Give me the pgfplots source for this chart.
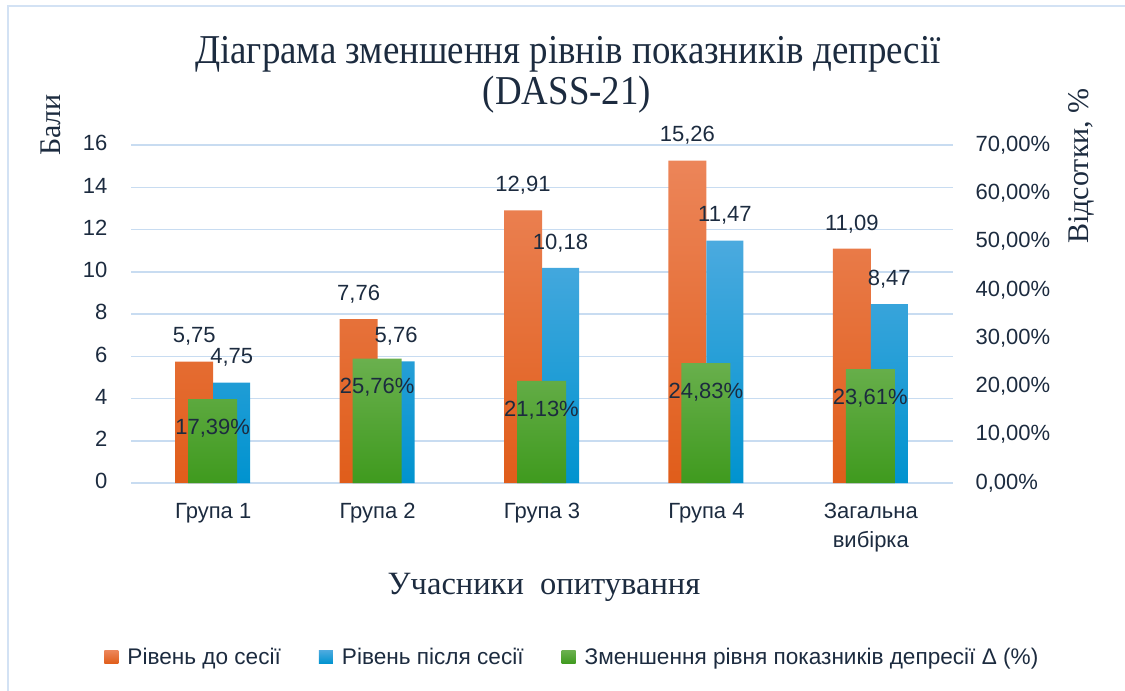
\documentclass[border=0pt]{standalone}
\usepackage{fontspec}
\setmainfont{Liberation Serif}
\setsansfont{Liberation Sans}
\newfontfamily\titlefont[FakeStretch=0.9]{Liberation Serif}
\usepackage{pgfplots}
\pgfplotsset{compat=1.18}
\definecolor{txt}{HTML}{1C2B3F}
\definecolor{gridc}{HTML}{C8DCF1}
\definecolor{framec}{HTML}{D3E2F4}
\definecolor{oT}{HTML}{EC8559}\definecolor{oM}{HTML}{F0722B}\definecolor{oB}{HTML}{E05D1A}
\definecolor{bT}{HTML}{4BAADF}\definecolor{bM}{HTML}{1EA5E0}\definecolor{bB}{HTML}{0093CF}
\definecolor{gT}{HTML}{6AB04E}\definecolor{gM}{HTML}{50AC2E}\definecolor{gB}{HTML}{3F9A1E}
\pgfplotsset{
  orangebar/.style={draw=none, top color=oT, middle color=oM, bottom color=oB},
  bluebar/.style={draw=none, top color=bT, middle color=bM, bottom color=bB},
  greenbar/.style={draw=none, top color=gT, middle color=gM, bottom color=gB},
}
\newcommand{\lblfont}{\sffamily\fontsize{22}{29}\selectfont}
\begin{document}
\begin{tikzpicture}
\useasboundingbox (0pt,0pt) rectangle (1125pt,-691pt);
\draw[framec, line width=1.5pt] (8pt,-691pt) -- (8pt,-6pt) -- (1125pt,-6pt);
\begin{axis}[
  at={(131pt,-483pt)}, anchor=south west,
  scale only axis, width=822pt, height=338pt,
  xmin=-0.5, xmax=4.5, ymin=0, ymax=16,
  ybar, bar width=38pt,
  ytick={0,2,...,16},
  xtick={0,1,2,3,4},
  xticklabels={Група 1,Група 2,Група 3,Група 4,{Загальна\\вибірка}},
  typeset ticklabels with strut,
  xticklabel style={align=center, font=\lblfont, text=txt, anchor=north, yshift=-12pt},
  yticklabel style={font=\lblfont, text=txt, xshift=-20pt},
  /pgf/number format/assume math mode=true,
  axis line style={draw=none}, major tick length=0pt,
  ymajorgrids, grid style={gridc, line width=1.5pt},
  nodes near coords={\pgfmathprintnumber[fixed,fixed zerofill,precision=2,use comma,assume math mode=true]{\pgfplotspointmeta}},
  every node near coord/.append style={font=\lblfont, text=txt, anchor=center, yshift=25pt},
  clip=false,
]
\addplot[orangebar, bar shift=-19pt] coordinates {(0,5.75) (1,7.76) (2,12.91) (3,15.26) (4,11.09)};
\addplot[bluebar, bar shift=18.5pt, bar width=37pt] coordinates {(0,4.75) (1,5.76) (2,10.18) (3,11.47) (4,8.47)};
\end{axis}
\begin{axis}[
  at={(131pt,-483pt)}, anchor=south west,
  scale only axis, width=822pt, height=338pt,
  xmin=-0.5, xmax=4.5, ymin=0, ymax=70,
  ybar, bar width=49pt,
  axis y line*=right, axis x line=none,
  ytick={0,10,...,70},
  yticklabels={{0,00\%},{10,00\%},{20,00\%},{30,00\%},{40,00\%},{50,00\%},{60,00\%},{70,00\%}},
  yticklabel style={font=\lblfont, text=txt, xshift=19pt},
  axis line style={draw=none}, major tick length=0pt,
  nodes near coords={\pgfmathprintnumber[fixed,fixed zerofill,precision=2,use comma,assume math mode=true]{\pgfplotspointmeta}\%},
  every node near coord/.append style={font=\lblfont, text=txt, anchor=center, yshift=-29pt},
  clip=false,
  legend style={at={(0.537,-0.515)}, anchor=center, draw=none, fill=none,
    font=\sffamily\fontsize{22.6}{26}\selectfont, text=txt,
    legend columns=3,
    /tikz/every even column/.append style={column sep=36pt},
    /tikz/every odd column/.append style={column sep=7pt},
    legend cell align=left},
  legend image code/.code={\path[#1] (0pt,-6.5pt) rectangle (14pt,6.5pt);},
]
\addlegendimage{orangebar}
\addlegendentry{Рівень до сесії}
\addlegendimage{bluebar}
\addlegendentry{Рівень після сесії}
\addplot[greenbar, bar shift=-0.5pt] coordinates {(0,17.39) (1,25.76) (2,21.13) (3,24.83) (4,23.61)};
\addlegendentry{Зменшення рівня показників депресії Δ (\%)}
\end{axis}
\node[anchor=base, text=txt, font=\titlefont\fontsize{41}{44}\selectfont] at (568pt,-63pt) {Діаграма зменшення рівнів показників депресії};
\node[anchor=base, text=txt, font=\titlefont\fontsize{41}{44}\selectfont] at (567pt,-104pt) {(DASS-21)};
\node[anchor=base, text=txt, font=\fontsize{32.5}{38}\selectfont] at (544pt,-594pt) {Учасники\ \ опитування};
\node[rotate=90, text=txt, font=\fontsize{30}{34}\selectfont] at (51pt,-125pt) {Бали};
\node[rotate=90, text=txt, font=\fontsize{30}{34}\selectfont] at (1081pt,-166pt) {Відсотки, \%};
\end{tikzpicture}
\end{document}
